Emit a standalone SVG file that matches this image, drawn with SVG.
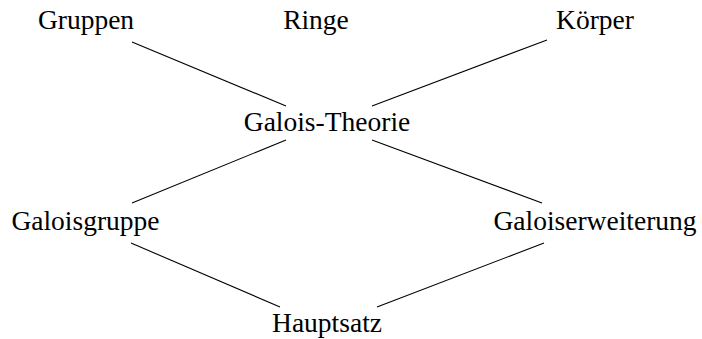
<svg xmlns="http://www.w3.org/2000/svg" width="702" height="339" viewBox="0 0 702 339">
<style>
text{font-family:"Liberation Serif","Times New Roman",serif;font-size:27.5px;fill:#000;text-anchor:middle}
.c line{stroke:#000;stroke-width:1.1;fill:none}
</style>
<rect width="702" height="339" fill="#fff"/>
<g class="c" id="connectors">
<line x1="132" y1="42" x2="286" y2="106"/>
<line x1="547" y1="40" x2="372" y2="106"/>
<line x1="286" y1="140" x2="132" y2="203"/>
<line x1="372" y1="140" x2="542" y2="203"/>
<line x1="131" y1="243" x2="280" y2="307"/>
<line x1="544" y1="243" x2="377" y2="307"/>
</g>
<g id="gruppen"><text x="86" y="29">Gruppen</text></g>
<g id="ringe"><text x="316" y="29">Ringe</text></g>
<g id="koerper"><text x="595" y="29">Körper</text></g>
<g id="galois-theorie"><text x="327" y="131">Galois-Theorie</text></g>
<g id="galoisgruppe"><text x="85.5" y="230">Galoisgruppe</text></g>
<g id="galoiserweiterung"><text x="595" y="230">Galoiserweiterung</text></g>
<g id="hauptsatz"><text x="327" y="332">Hauptsatz</text></g>
</svg>
